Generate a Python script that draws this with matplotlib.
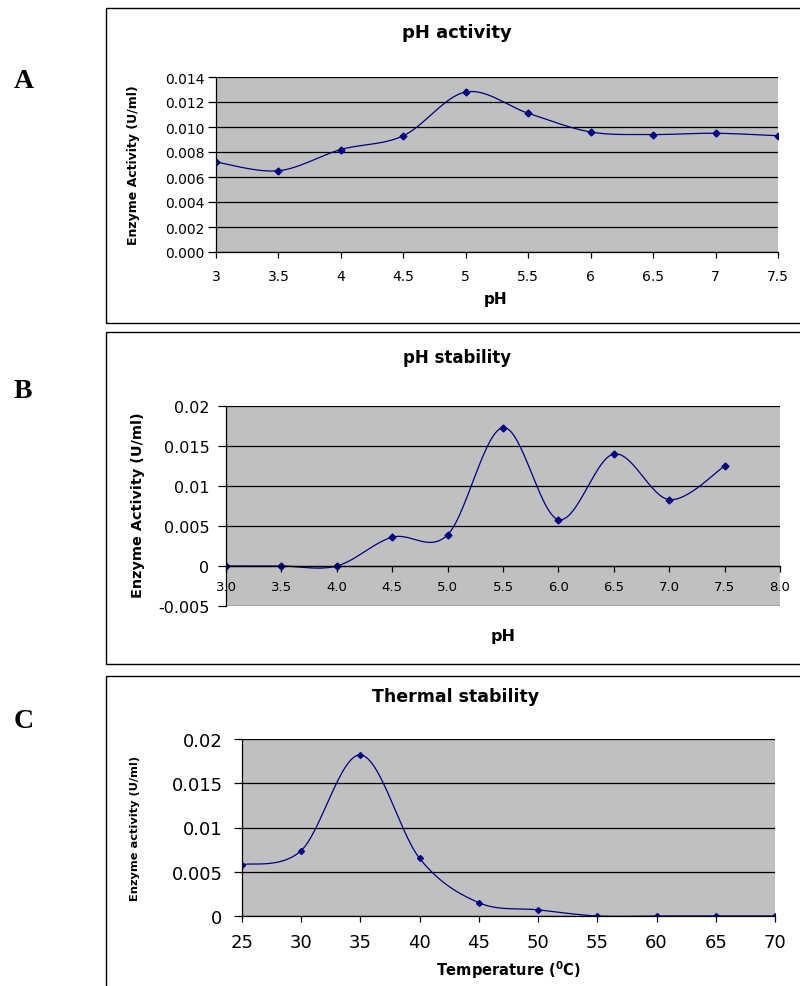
import numpy as np
import matplotlib
matplotlib.use("Agg")
import matplotlib.pyplot as plt
from matplotlib.patches import Rectangle

# ---- data ----
ph_a = [3, 3.5, 4, 4.5, 5, 5.5, 6, 6.5, 7, 7.5]
act_a = [0.0072, 0.0065, 0.0082, 0.0093, 0.0128, 0.0111, 0.0096, 0.0094, 0.0095, 0.0093]

ph_b = [3.0, 3.5, 4.0, 4.5, 5.0, 5.5, 6.0, 6.5, 7.0, 7.5]
act_b = [0.0, 0.0, 0.0, 0.0036, 0.0039, 0.0173, 0.0058, 0.0140, 0.0083, 0.0125]

temp_c = [25, 30, 35, 40, 45, 50, 55, 60, 65, 70]
act_c = [0.0058, 0.0074, 0.0182, 0.0065, 0.0015, 0.0007, 0.0, 0.0, 0.0, 0.0]

W, H = 800, 987
plt.rcParams['font.family'] = ['DejaVu Sans']
fig = plt.figure(figsize=(W / 100, H / 100), dpi=100)

NAVY = '#000080'
GRAY = '#C0C0C0'


def smooth(x, y, n=30):
    """Excel-style smoothed line (cubic Bezier through the points)."""
    P = np.column_stack([np.asarray(x, float), np.asarray(y, float)])
    Pe = np.vstack([P[0], P, P[-1]])
    out = []
    t = np.linspace(0, 1, n)[:, None]
    for i in range(len(P) - 1):
        p0, p1, p2, p3 = Pe[i], Pe[i + 1], Pe[i + 2], Pe[i + 3]
        c1 = p1 + (p2 - p0) / 6
        c2 = p2 - (p3 - p1) / 6
        seg = ((1 - t) ** 3) * p1 + 3 * ((1 - t) ** 2) * t * c1 + 3 * (1 - t) * t ** 2 * c2 + t ** 3 * p2
        out.append(seg)
    s = np.vstack(out)
    return s[:, 0], s[:, 1]


def ax_at(x0, y0, x1, y1):
    return fig.add_axes([x0 / W, 1 - y1 / H, (x1 - x0) / W, (y1 - y0) / H])


def box(x0, y0, x1, y1):
    fig.patches.append(Rectangle((x0 / W, 1 - y1 / H), (x1 - x0) / W, (y1 - y0) / H,
                                 transform=fig.transFigure, fill=False,
                                 edgecolor='black', linewidth=1.0))


def style(ax, ypad):
    ax.set_facecolor(GRAY)
    for s in ['top', 'right']:
        ax.spines[s].set_visible(False)
    ax.spines['left'].set_linewidth(0.9)
    ax.spines['bottom'].set_linewidth(0.9)
    ax.grid(axis='y', color='black', linewidth=0.9)
    ax.set_axisbelow(True)
    ax.tick_params(axis='y', direction='out', length=6, width=0.9, pad=ypad)
    ax.tick_params(axis='x', direction='out', length=4, width=0.9)


def ftext(x, y, s, **kw):
    fig.text(x / W, 1 - y / H, s, ha='center', va='center', **kw)


# ---- boxes ----
box(106, 9, 806, 324)
box(106, 333, 806, 665)
box(106, 677, 806, 995)

# ---- panel letters ----
for lab, yy in [('A', 81), ('B', 392), ('C', 722)]:
    fig.text(14 / W, 1 - yy / H, lab, fontsize=20, fontweight='bold',
             family='Liberation Serif', ha='left', va='center')

# ---- Panel A ----
ax = ax_at(216, 78, 778, 253)
style(ax, 2)
sx, sy = smooth(ph_a, act_a)
ax.plot(sx, sy, color=NAVY, lw=0.9)
ax.plot(ph_a, act_a, 'D', color=NAVY, ms=3.5)
ax.set_xlim(3, 7.5)
ax.set_ylim(0, 0.014)
ya = np.arange(0, 0.0141, 0.002)
ax.set_yticks(ya)
ax.set_yticklabels([f'{v:.3f}' for v in ya], fontsize=10)
ax.set_xticks(ph_a)
ax.set_xticklabels([f'{v:g}' for v in ph_a], fontsize=10)
ax.tick_params(axis='x', pad=8)
ftext(457, 33, 'pH activity', fontsize=13, fontweight='bold')
ftext(496, 300, 'pH', fontsize=11, fontweight='bold')
ftext(134, 165, 'Enzyme Activity (U/ml)', fontsize=9, fontweight='bold', rotation=90)

# ---- Panel B ----
ax = ax_at(226, 407, 780, 607)
style(ax, 6)
ax.spines['bottom'].set_position(('data', 0))
sx, sy = smooth(ph_b, act_b)
ax.plot(sx, sy, color=NAVY, lw=0.9)
ax.plot(ph_b, act_b, 'D', color=NAVY, ms=3.5)
ax.set_xlim(3, 8)
ax.set_ylim(-0.005, 0.02)
yb = [-0.005, 0, 0.005, 0.01, 0.015, 0.02]
ax.set_yticks(yb)
ax.set_yticklabels(['-0.005', '0', '0.005', '0.01', '0.015', '0.02'], fontsize=11.5)
xb = [3.0, 3.5, 4.0, 4.5, 5.0, 5.5, 6.0, 6.5, 7.0, 7.5, 8.0]
ax.set_xticks(xb)
ax.set_xticklabels([f'{v:.1f}' for v in xb], fontsize=9.5)
ax.tick_params(axis='x', pad=6)
ftext(457, 358, 'pH stability', fontsize=12, fontweight='bold')
ftext(503, 637, 'pH', fontsize=11.5, fontweight='bold')
ftext(138, 505, 'Enzyme Activity (U/ml)', fontsize=10.4, fontweight='bold', rotation=90)

# ---- Panel C ----
ax = ax_at(242, 740, 775, 917)
style(ax, 8)
sx, sy = smooth(temp_c, act_c)
ax.plot(sx, sy, color=NAVY, lw=0.9)
ax.plot(temp_c, act_c, 'D', color=NAVY, ms=3)
ax.set_xlim(25, 70)
ax.set_ylim(0, 0.02)
yc = [0, 0.005, 0.01, 0.015, 0.02]
ax.set_yticks(yc)
ax.set_yticklabels(['0', '0.005', '0.01', '0.015', '0.02'], fontsize=13)
ax.set_xticks(temp_c)
ax.set_xticklabels([str(v) for v in temp_c], fontsize=13)
ax.tick_params(axis='x', pad=8)
ftext(456, 697, 'Thermal stability', fontsize=12.5, fontweight='bold')
ftext(508, 970, r'Temperature ($\mathbf{^{0}}$C)', fontsize=10.5, fontweight='bold')
ftext(135, 828, 'Enzyme activity (U/ml)', fontsize=8.2, fontweight='bold', rotation=90)

fig.savefig('out.png', dpi=100)
